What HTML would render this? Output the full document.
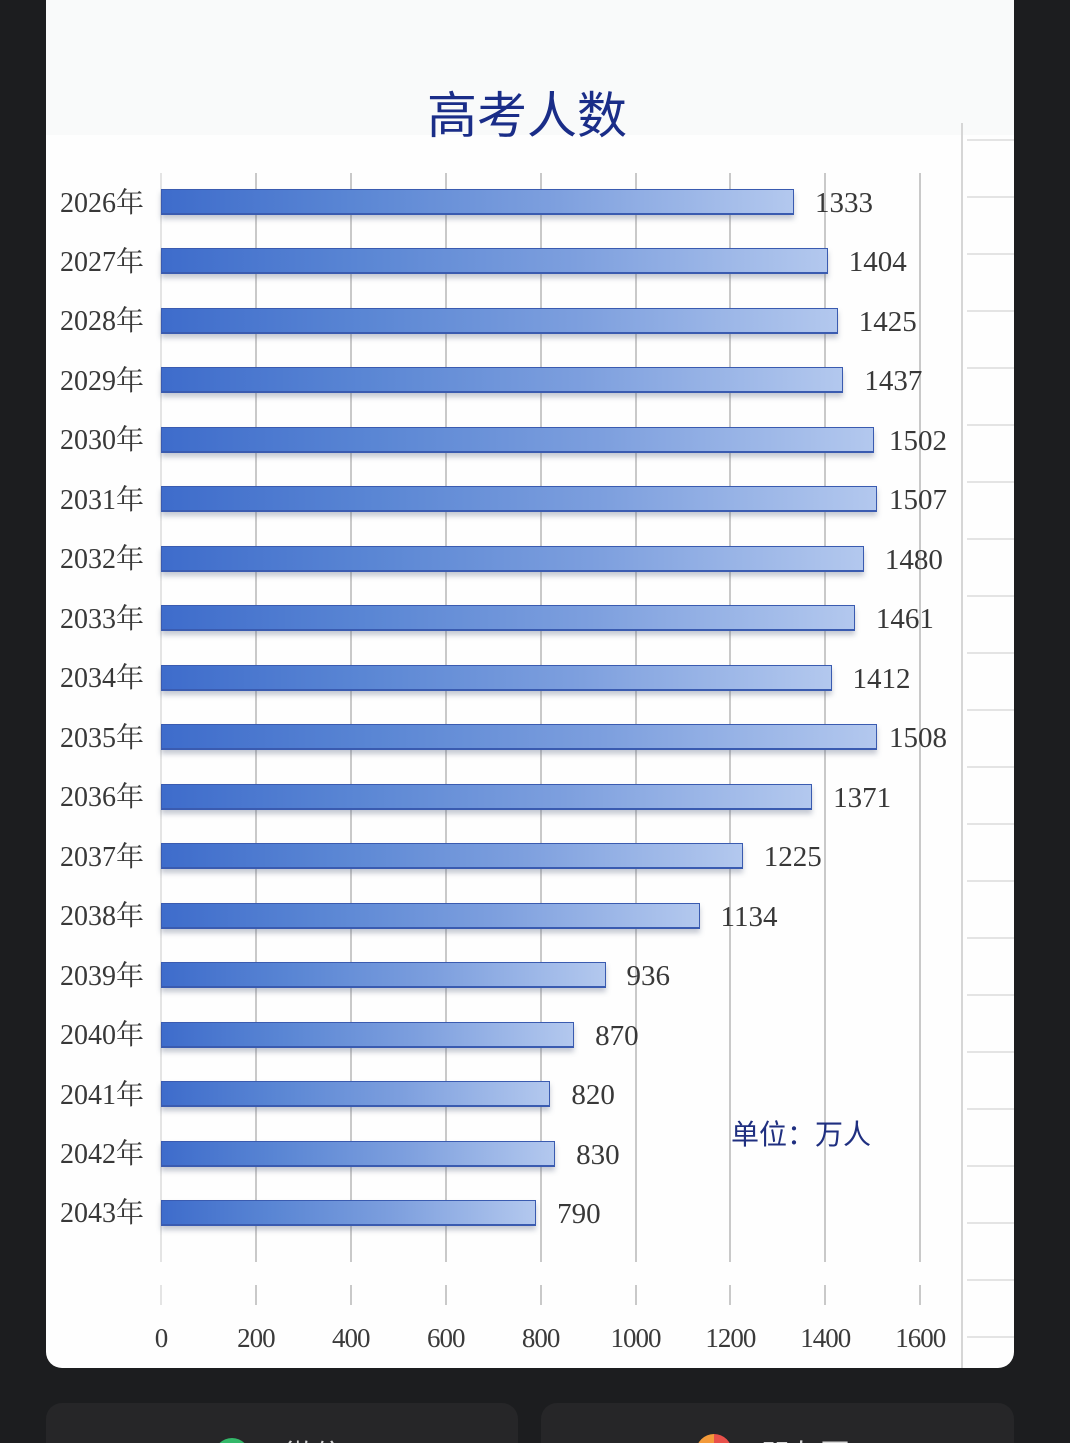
<!DOCTYPE html>
<html><head><meta charset="utf-8">
<style>
*{margin:0;padding:0;box-sizing:border-box}
html,body{width:1070px;height:1443px;background:#1c1d1f;overflow:hidden;position:relative}
.card{position:absolute;left:46px;top:0;width:968px;height:1368px;background:#fefefe;border-radius:0 0 16px 16px;overflow:hidden}
.topband{position:absolute;left:0;top:0;width:968px;height:135px;background:#f9fafa}
.ab{position:absolute}
.gl{position:absolute;width:2px;background:#c9c9c9}
.bar{position:absolute;left:161px;height:26px;border:1.5px solid #3a5bb0;border-bottom-width:2px;background:linear-gradient(90deg,#3e6ccb 0%,#5a86d4 30%,#7d9fde 62%,#b3c8ee 100%);box-shadow:0 4px 5px rgba(90,100,130,0.35)}
.yl{position:absolute;left:60px;height:32px;line-height:32px;font-family:"Liberation Serif","Noto Serif CJK SC",serif;font-size:28px;color:#383838;white-space:nowrap}
.vl{position:absolute;height:32px;line-height:32px;font-family:"Liberation Serif",serif;font-size:29px;color:#383838;white-space:nowrap}
.xl{position:absolute;top:1322px;height:32px;line-height:32px;width:80px;text-align:center;font-family:"Liberation Serif",serif;font-size:27px;color:#3a3a3a;letter-spacing:-1px}
.rh{position:absolute;left:967px;width:47px;height:2px;background:#e4e4e4}
.bc{position:absolute;top:1403px;height:60px;background:#262628;border-radius:16px 16px 0 0;overflow:hidden}
</style></head><body>
<div class="card"><div class="topband"></div></div>

<div class="ab" style="left:0;top:82px;width:1054px;text-align:center;font-family:'Noto Sans CJK SC',sans-serif;font-size:50px;line-height:60px;color:#1a2d88;">高考人数</div>

<div class="ab" style="left:961px;top:123px;width:2px;height:1245px;background:#d6d6d6"></div>
<div id="rh"></div>

<div id="grid"></div>
<div id="bars"></div>

<div class="ab" style="left:731px;top:1115px;font-family:'Noto Sans CJK SC',sans-serif;font-size:28px;line-height:36px;color:#1f2f80;white-space:nowrap">单位：万人</div>

<div class="bc" style="left:46px;width:472px">
  <div class="ab" style="left:168px;top:35px;width:36px;height:36px;border-radius:50%;background:#34b86a"></div>
  <div class="ab" style="left:238px;top:30px;font-family:'Noto Sans CJK SC',sans-serif;font-size:30px;color:#d8d8d8;line-height:40px">微信</div>
</div>
<div class="bc" style="left:541px;width:473px">
  <div class="ab" style="left:155px;top:31px;width:36px;height:36px;border-radius:50%;background:conic-gradient(#e8504a 0 25%,#6a5ae0 25% 50%,#3fb0e8 50% 75%,#f39a3a 75% 100%)"></div>
  <div class="ab" style="left:219px;top:30px;font-family:'Noto Sans CJK SC',sans-serif;font-size:30px;color:#d8d8d8;line-height:40px">朋友圈</div>
</div>

<script>
(function(){
var rh=document.getElementById('rh'),s='';
for(var y=140;y<1368;y+=57){s+='<div class="rh" style="top:'+(y-1)+'px"></div>';}
rh.innerHTML=s;
var g=document.getElementById('grid');s='';
var labels=['0','200','400','600','800','1000','1200','1400','1600'];
for(var k=0;k<9;k++){
  var x=161+k*94.9;
  var c=k==0?'#e4e4e4':'#c9c9c9';
  s+='<div class="gl" style="left:'+(x-1)+'px;top:173px;height:1089px;background:'+c+'"></div>';
  s+='<div class="gl" style="left:'+(x-1)+'px;top:1285px;height:20px;background:'+c+'"></div>';
  s+='<div class="xl" style="left:'+(x-40)+'px">'+labels[k]+'</div>';
}
g.innerHTML=s;
var vals=[1333,1404,1425,1437,1502,1507,1480,1461,1412,1508,1371,1225,1134,936,870,820,830,790];
var b=document.getElementById('bars');s='';
for(var i=0;i<vals.length;i++){
  var ty=189+i*59.47, cy=ty+13;
  var w=vals[i]*0.4749;
  var lx=161+w+21; if(lx>889) lx=889;
  s+='<div class="bar" style="top:'+ty+'px;width:'+w+'px"></div>';
  s+='<div class="yl" style="top:'+(cy-14.5)+'px">'+(2026+i)+'年</div>';
  s+='<div class="vl" style="left:'+lx+'px;top:'+(cy-15)+'px">'+vals[i]+'</div>';
}
b.innerHTML=s;
})();
</script>
</body></html>
